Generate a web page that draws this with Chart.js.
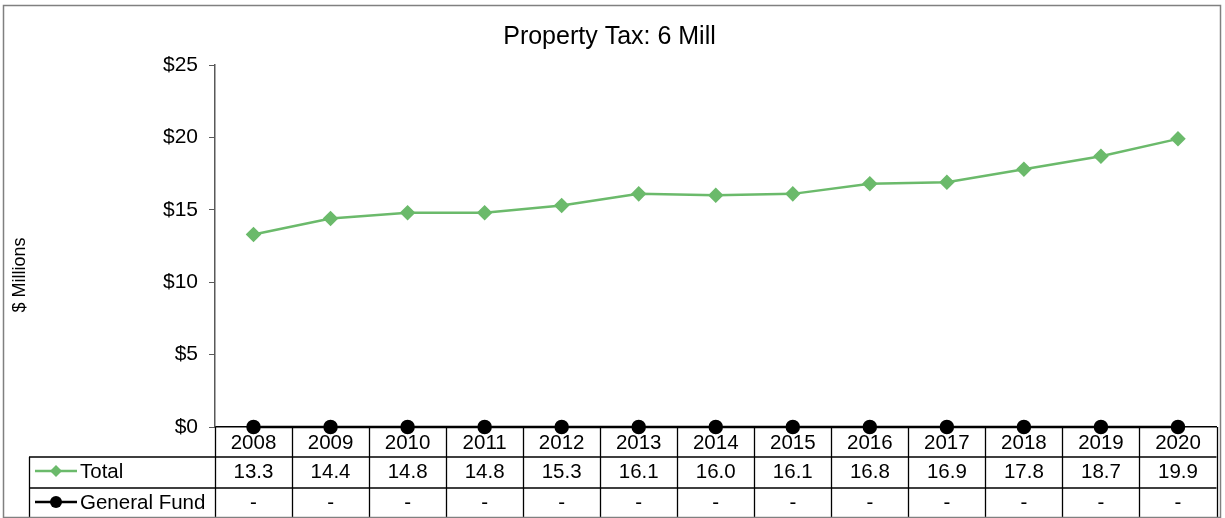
<!DOCTYPE html>
<html>
<head>
<meta charset="utf-8">
<script src="https://cdn.jsdelivr.net/npm/chart.js@4/dist/chart.umd.min.js"></script>
<style>
  html, body { margin: 0; padding: 0; background: #fff; }
  #wrap { width: 1225px; height: 518px; position: relative; }
</style>
</head>
<body>
<div id="wrap"><canvas id="chart" width="1225" height="518"></canvas></div>
<script>
/* ── Data ───────────────────────────────────────── */
const years       = ['2008', '2009', '2010', '2011', '2012', '2013', '2014', '2015', '2016', '2017', '2018', '2019', '2020'];
const total       = [13.3, 14.4, 14.8, 14.8, 15.3, 16.1, 16.0, 16.1, 16.8, 16.9, 17.8, 18.7, 19.9];
const generalFund = [0, 0, 0, 0, 0, 0, 0, 0, 0, 0, 0, 0, 0];
const yTicks      = [0, 5, 10, 15, 20, 25];

const GREEN = '#6bba6b';
const FONT  = '"Liberation Sans", Arial, sans-serif';

/* ── Data table under the plot + axis title ─────── */
const dataTable = {
  id: 'dataTable',
  afterDraw(chart) {
    const { ctx, chartArea, scales: { x } } = chart;
    const w = (chartArea.right - chartArea.left) / years.length;
    const rowY = [chartArea.bottom, 457, 488, 517];
    const labelLeft = 29;

    ctx.save();
    ctx.strokeStyle = '#000';
    ctx.lineWidth = 1.3;

    // horizontal lines
    ctx.beginPath();
    ctx.moveTo(labelLeft, rowY[1]); ctx.lineTo(chartArea.right, rowY[1]);
    ctx.moveTo(labelLeft, rowY[2]); ctx.lineTo(chartArea.right, rowY[2]);
    ctx.stroke();

    // vertical lines
    ctx.beginPath();
    for (let i = 0; i <= years.length; i++) {
      const xx = Math.round(chartArea.left + i * w) + 0.5;
      ctx.moveTo(xx, rowY[0]); ctx.lineTo(xx, rowY[3]);
    }
    ctx.moveTo(labelLeft + 0.5, rowY[1]); ctx.lineTo(labelLeft + 0.5, rowY[3]);
    ctx.stroke();

    // cell text
    ctx.fillStyle = '#000';
    ctx.font = '20.5px ' + FONT;
    ctx.textAlign = 'center';
    ctx.textBaseline = 'middle';
    years.forEach((yr, i) => {
      const cx = x.getPixelForValue(i);
      ctx.fillText(yr, cx, 443);
      ctx.fillText(total[i].toFixed(1), cx, 472);
      ctx.fillText(generalFund[i] === 0 ? '-' : generalFund[i].toFixed(1), cx, 503);
    });

    // row labels with legend keys
    ctx.textAlign = 'left';
    ctx.fillText('Total', 80, 472);
    ctx.fillText('General Fund', 80, 503);

    ctx.lineWidth = 2.5;
    ctx.strokeStyle = GREEN;
    ctx.beginPath(); ctx.moveTo(35, 471); ctx.lineTo(77, 471); ctx.stroke();
    ctx.fillStyle = GREEN;
    ctx.beginPath();
    ctx.moveTo(56, 465); ctx.lineTo(62, 471); ctx.lineTo(56, 477); ctx.lineTo(50, 471);
    ctx.closePath(); ctx.fill();

    ctx.strokeStyle = '#000';
    ctx.beginPath(); ctx.moveTo(35, 502); ctx.lineTo(77, 502); ctx.stroke();
    ctx.fillStyle = '#000';
    ctx.beginPath(); ctx.arc(56, 502, 6, 0, Math.PI * 2); ctx.fill();

    // y axis title (centred lower than the plot, as in the original)
    ctx.save();
    ctx.translate(20, 275);
    ctx.rotate(-Math.PI / 2);
    ctx.textAlign = 'center';
    ctx.font = '18px ' + FONT;
    ctx.fillText('$ Millions', 0, 0);
    ctx.restore();

    // outer frame
    ctx.strokeStyle = '#808080';
    ctx.lineWidth = 1.5;
    ctx.strokeRect(3.5, 5.5, 1217, 512);
    ctx.restore();
  }
};

/* ── Chart ──────────────────────────────────────── */
new Chart(document.getElementById('chart'), {
  type: 'line',
  data: {
    labels: years,
    datasets: [
      {
        label: 'Total',
        data: total,
        borderColor: GREEN,
        backgroundColor: GREEN,
        borderWidth: 2.5,
        pointStyle: 'rectRot',
        pointRadius: 6,
        pointHoverRadius: 6,
        clip: false
      },
      {
        label: 'General Fund',
        data: generalFund,
        borderColor: '#000',
        backgroundColor: '#000',
        borderWidth: 2.5,
        pointStyle: 'circle',
        pointRadius: 6,
        pointHoverRadius: 6,
        clip: false
      }
    ]
  },
  options: {
    responsive: false,
    animation: false,
    layout: { padding: { top: 10, right: 6, bottom: 0, left: 0 } },
    plugins: {
      legend: { display: false },
      tooltip: { enabled: false },
      title: {
        display: true,
        text: 'Property Tax: 6 Mill',
        color: '#000',
        font: { family: FONT, size: 25, weight: 'normal' },
        padding: { top: 12, bottom: 13 }
      }
    },
    scales: {
      x: {
        offset: true,
        grid: { display: false },
        ticks: { display: false },
        border: { display: true, color: '#000', width: 1.5 },
        afterFit: s => { s.height = 91; }
      },
      y: {
        min: 0,
        max: 25,
        afterBuildTicks: s => { s.ticks = yTicks.map(v => ({ value: v })); },
        grid: { display: true, drawOnChartArea: false, tickLength: 6, color: '#595959' },
        border: { display: true, color: '#595959', width: 1.5 },
        ticks: {
          color: '#000',
          padding: 11,
          font: { family: FONT, size: 21 },
          callback: v => '$' + v
        },
        afterFit: s => { s.width = 215; }
      }
    }
  },
  plugins: [dataTable]
});
</script>
</body>
</html>
